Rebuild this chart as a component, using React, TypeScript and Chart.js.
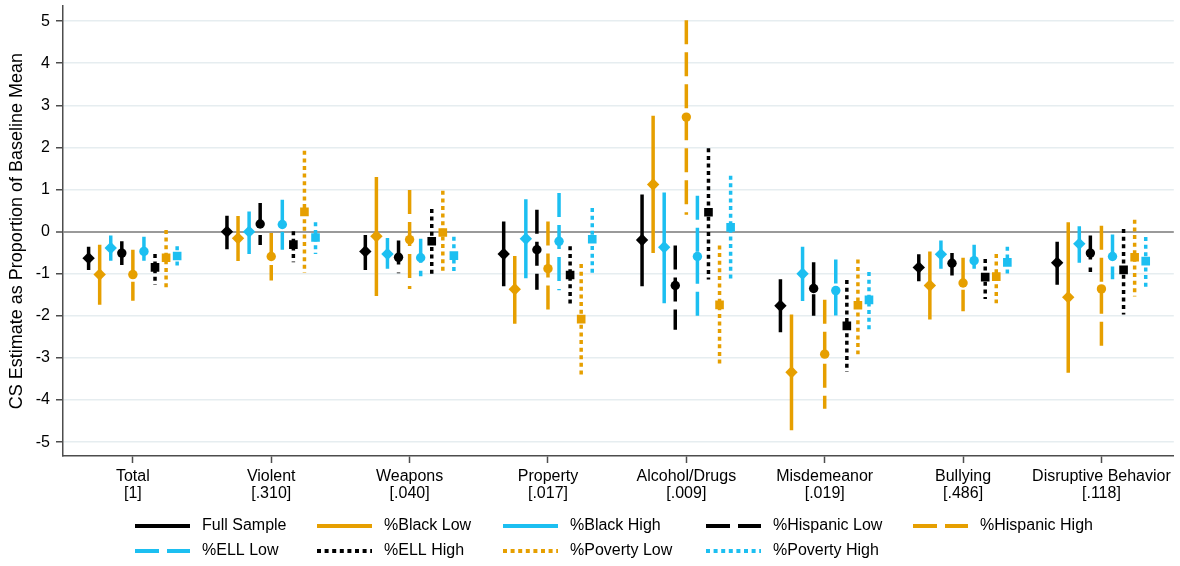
import React, { useEffect, useRef } from "react";
import { Chart, registerables } from "chart.js";

Chart.register(...registerables);

// ---------- data ----------
const categories = ["Total", "Violent", "Weapons", "Property", "Alcohol/Drugs", "Misdemeanor", "Bullying", "Disruptive Behavior"];
const pValues = ["[1]", "[.310]", "[.040]", "[.017]", "[.009]", "[.019]", "[.486]", "[.118]"];
const yTickValues = [-5, -4, -3, -2, -1, 0, 1, 2, 3, 4, 5];
const seriesNames = ["Full Sample", "%Black Low", "%Black High", "%Hispanic Low", "%Hispanic High", "%ELL Low", "%ELL High", "%Poverty Low", "%Poverty High"];

const fullSampleEst = [-0.63, 0.0, -0.47, -0.53, -0.2, -1.76, -0.85, -0.74];
const fullSampleLo = [-0.91, -0.42, -0.91, -1.3, -1.3, -2.39, -1.18, -1.26];
const fullSampleHi = [-0.36, 0.38, -0.08, 0.24, 0.88, -1.13, -0.54, -0.24];

const blackLowEst = [-1.02, -0.16, -0.11, -1.37, 1.12, -3.34, -1.28, -1.56];
const blackLowLo = [-1.74, -0.7, -1.53, -2.19, -0.51, -4.72, -2.09, -3.35];
const blackLowHi = [-0.31, 0.37, 1.3, -0.58, 2.75, -1.97, -0.47, 0.22];

const blackHighEst = [-0.39, 0.0, -0.53, -0.17, -0.37, -1.0, -0.54, -0.29];
const blackHighLo = [-0.69, -0.53, -0.88, -1.11, -1.7, -1.65, -0.88, -0.74];
const blackHighHi = [-0.09, 0.48, -0.15, 0.77, 0.93, -0.36, -0.21, 0.13];

const hispanicLowEst = [-0.51, 0.18, -0.61, -0.43, -1.28, -1.35, -0.75, -0.51];
const hispanicLowLo = [-0.79, -0.32, -0.99, -1.38, -2.33, -2.0, -1.04, -0.96];
const hispanicLowHi = [-0.23, 0.68, -0.21, 0.52, -0.33, -0.73, -0.51, -0.09];

const hispanicHighEst = [-1.02, -0.59, -0.19, -0.88, 2.72, -2.91, -1.22, -1.36];
const hispanicHighLo = [-1.64, -1.16, -1.36, -2.0, 0.4, -4.21, -1.89, -2.84];
const hispanicHighHi = [-0.43, -0.03, 0.99, 0.24, 5.02, -1.62, -0.62, 0.14];

const ellLowEst = [-0.47, 0.17, -0.62, -0.23, -0.59, -1.4, -0.69, -0.59];
const ellLowLo = [-0.83, -0.43, -1.06, -1.39, -2.05, -2.15, -1.07, -1.13];
const ellLowHi = [-0.12, 0.76, -0.17, 0.92, 0.85, -0.66, -0.31, -0.07];

const ellHighEst = [-0.85, -0.31, -0.23, -1.03, 0.46, -2.24, -1.08, -0.91];
const ellHighLo = [-1.26, -0.73, -1.07, -1.74, -1.14, -3.33, -1.6, -1.97];
const ellHighHi = [-0.53, 0.01, 0.54, -0.35, 1.98, -1.15, -0.65, 0.06];

const povertyLowEst = [-0.62, 0.47, -0.02, -2.08, -1.74, -1.75, -1.07, -0.61];
const povertyLowLo = [-1.32, -0.98, -1.02, -3.45, -3.15, -2.91, -1.7, -1.54];
const povertyLowHi = [0.04, 1.92, 0.97, -0.77, -0.33, -0.66, -0.53, 0.28];

const povertyHighEst = [-0.58, -0.14, -0.57, -0.18, 0.1, -1.62, -0.73, -0.7];
const povertyHighLo = [-0.88, -0.53, -1.02, -1.03, -1.14, -2.35, -1.07, -1.32];
const povertyHighHi = [-0.35, 0.22, -0.12, 0.56, 1.33, -0.96, -0.36, -0.13];

// ---------- styles ----------
const FONT = "'Liberation Sans', Arial, Helvetica, sans-serif";
const BLACK = "#000000";
const ORANGE = "#E69F00";
const CYAN = "#1CBFF1";
const AXIS = "#4d4d4d";
const LONG_DASH = [24, 8];
const DOT = [4, 3.6];
const SOLID: number[] = [];

const seriesData = [
  [fullSampleEst, fullSampleLo, fullSampleHi],
  [blackLowEst, blackLowLo, blackLowHi],
  [blackHighEst, blackHighLo, blackHighHi],
  [hispanicLowEst, hispanicLowLo, hispanicLowHi],
  [hispanicHighEst, hispanicHighLo, hispanicHighHi],
  [ellLowEst, ellLowLo, ellLowHi],
  [ellHighEst, ellHighLo, ellHighHi],
  [povertyLowEst, povertyLowLo, povertyLowHi],
  [povertyHighEst, povertyHighLo, povertyHighHi],
];
const seriesColors = [BLACK, ORANGE, CYAN, BLACK, ORANGE, CYAN, BLACK, ORANGE, CYAN];
const seriesDash = [SOLID, SOLID, SOLID, LONG_DASH, LONG_DASH, LONG_DASH, DOT, DOT, DOT];
const seriesMarker = ["rectRot", "rectRot", "rectRot", "circle", "circle", "circle", "rect", "rect", "rect"];
const markerRadius: Record<string, number> = { rectRot: 6.2, circle: 4.7, rect: 6.1 };
const OFFSET_STEP = 0.08;

const legendColX = [135, 317, 503, 706, 913];
const legendRowY = [526, 551];
const LEGEND_LINE = 55;
const LEGEND_TEXT_GAP = 67;

const legendPlugin = {
  id: "customLegend",
  afterDraw(chart: any) {
    const ctx = chart.ctx;
    ctx.save();
    seriesNames.forEach((name, i) => {
      const row = i < 5 ? 0 : 1;
      const col = i < 5 ? i : i - 5;
      const x = legendColX[col];
      const y = legendRowY[row];
      ctx.beginPath();
      ctx.setLineDash(seriesDash[i]);
      ctx.lineDashOffset = 0;
      ctx.lineWidth = 4;
      ctx.lineCap = "butt";
      ctx.strokeStyle = seriesColors[i];
      ctx.moveTo(x, y);
      ctx.lineTo(x + LEGEND_LINE, y);
      ctx.stroke();
      ctx.setLineDash([]);
      ctx.fillStyle = "#000";
      ctx.font = `16px ${FONT}`;
      ctx.textBaseline = "middle";
      ctx.textAlign = "left";
      ctx.fillText(name, x + LEGEND_TEXT_GAP, y);
    });
    ctx.restore();
  },
};

export default function App() {
  const ref = useRef<HTMLCanvasElement>(null);

  useEffect(() => {
    const markerSets = seriesData.map(([est], k) => ({
      type: "scatter" as const,
      label: seriesNames[k],
      data: est.map((v, i) => ({ x: i + 1 + (k - 4) * OFFSET_STEP, y: v })),
      pointStyle: seriesMarker[k],
      pointRadius: markerRadius[seriesMarker[k]],
      pointHoverRadius: markerRadius[seriesMarker[k]],
      backgroundColor: seriesColors[k],
      borderColor: seriesColors[k],
      pointBorderWidth: 0,
      showLine: false,
      order: 0,
    }));
    const ciSets = seriesData.map(([, lo, hi], k) => ({
      type: "line" as const,
      label: seriesNames[k] + " CI",
      data: lo.flatMap((l, i) => {
        const x = i + 1 + (k - 4) * OFFSET_STEP;
        return [
          { x, y: hi[i] },
          { x, y: l },
          { x, y: null },
        ];
      }),
      borderColor: seriesColors[k],
      borderWidth: 3.5,
      borderDash: seriesDash[k],
      borderCapStyle: "butt",
      pointRadius: 0,
      pointHoverRadius: 0,
      spanGaps: false,
      tension: 0,
      fill: false,
      order: 1,
    }));

    const chart = new Chart(ref.current as HTMLCanvasElement, {
      type: "scatter",
      data: { datasets: [...markerSets, ...ciSets] as any },
      options: {
        animation: false,
        responsive: false,
        devicePixelRatio: 1,
        layout: { padding: { left: 0, right: 0, top: 4, bottom: 0 } },
        plugins: {
          legend: { display: false },
          tooltip: { enabled: false },
        },
        scales: {
          x: {
            type: "linear",
            min: 0.495,
            max: 8.523,
            afterBuildTicks: (s: any) => {
              s.ticks = categories.map((_, i) => ({ value: i + 1 }));
            },
            afterFit: (s: any) => {
              s.height = 110;
              s.paddingLeft = 0;
              s.paddingRight = 0;
            },
            ticks: {
              autoSkip: false,
              maxRotation: 0,
              minRotation: 0,
              padding: 5,
              color: "#000",
              font: { family: FONT, size: 16, lineHeight: 1.05 },
              callback: (v: any) => {
                const i = Math.round(Number(v)) - 1;
                return [categories[i], pValues[i]];
              },
            },
            grid: {
              drawOnChartArea: false,
              drawTicks: true,
              tickLength: 7,
              tickColor: AXIS,
              tickWidth: 1.5,
            },
            border: { color: AXIS, width: 1.5 },
          },
          y: {
            type: "linear",
            min: -5.33,
            max: 5.355,
            afterBuildTicks: (s: any) => {
              s.ticks = yTickValues.map((v) => ({ value: v }));
            },
            afterFit: (s: any) => {
              s.width = 63;
              s.paddingTop = 0;
              s.paddingBottom = 0;
            },
            ticks: {
              padding: 6,
              color: "#000",
              font: { family: FONT, size: 16 },
              callback: (v: any) => String(v),
            },
            grid: {
              color: (c: any) => (c.tick && c.tick.value === 0 ? "#9a9a9a" : "#e6edf0"),
              lineWidth: (c: any) => (c.tick && c.tick.value === 0 ? 2 : 1.5),
              drawTicks: true,
              tickLength: 7,
              tickColor: AXIS,
              tickWidth: 1.5,
            },
            border: { color: AXIS, width: 1.5 },
            title: {
              display: true,
              text: "CS Estimate as Proportion of Baseline Mean",
              color: "#000",
              font: { family: FONT, size: 18 },
              padding: { top: 6, bottom: 0 },
            },
          },
        },
      } as any,
      plugins: [legendPlugin],
    });
    return () => chart.destroy();
  }, []);

  return (
    <div style={{ position: "absolute", left: 0, top: 0, width: 1180, height: 566, background: "#fff" }}>
      <canvas ref={ref} width={1180} height={566} style={{ display: "block", width: 1180, height: 566 }} />
    </div>
  );
}
